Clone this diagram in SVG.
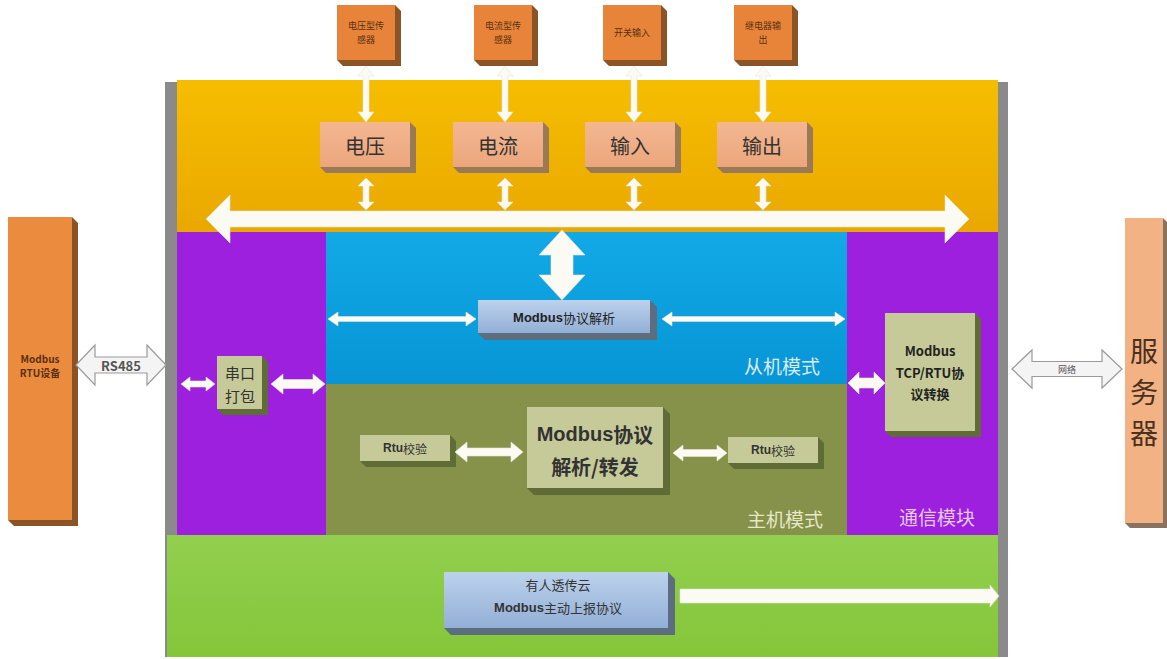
<svg xmlns="http://www.w3.org/2000/svg" xmlns:xlink="http://www.w3.org/1999/xlink" width="1167" height="659" viewBox="0 0 1167 659">
<defs>
<style>
text{font-family:"Noto Sans CJK SC","Liberation Sans",sans-serif;text-anchor:middle;dominant-baseline:central}
.arw{fill:#fbfbf4;stroke:#e6e6dc;stroke-width:0.6}
.oarw{fill:#f4f4f4;stroke:#9a9a9a;stroke-width:1.2}
.sens{fill:#e8843a}
.sensx{fill:#8a5426}
.peach{fill:url(#gPeach)}
.peachx{fill:#9a7a56}
.olv{fill:#c6ca98}
.olvx{fill:#606c36}
.blu{fill:url(#gBlue)}
.blux{fill:#5d6d80}
.t-s{font-size:9px;fill:#5a3010}
.t-m{font-size:20px;fill:#333}
.t-b{font-size:13px;fill:#222;font-weight:bold}
.t-mode{font-size:19px}
.t-srv{font-size:28px;fill:#4a3020}
</style>
<linearGradient id="gOrange" x1="0" y1="0" x2="0" y2="1"><stop offset="0" stop-color="#f6bd00"/><stop offset="1" stop-color="#eaa800"/></linearGradient>
<linearGradient id="gBlueBg" x1="0" y1="0" x2="0" y2="1"><stop offset="0" stop-color="#12a9e6"/><stop offset="1" stop-color="#0795d6"/></linearGradient>
<linearGradient id="gGreen" x1="0" y1="0" x2="0" y2="1"><stop offset="0" stop-color="#92cf4e"/><stop offset="1" stop-color="#84c63a"/></linearGradient>
<linearGradient id="gPeach" x1="0" y1="0" x2="0" y2="1"><stop offset="0" stop-color="#f3b791"/><stop offset="1" stop-color="#eca67c"/></linearGradient>
<linearGradient id="gBlue" x1="0" y1="0" x2="0" y2="1"><stop offset="0" stop-color="#bcd2ec"/><stop offset="1" stop-color="#92afd6"/></linearGradient>
<polygon id="vA" points="0,66 8,76 3,76 3,112 8,112 0,122 -8,112 -3,112 -3,76 -8,76"/>
<polygon id="vB" points="0,178 8,186 3,186 3,202 8,202 0,210 -8,202 -3,202 -3,186 -8,186"/>
</defs>

<g id="frame">
<rect x="165" y="82" width="843" height="575" fill="#8a8a8a"/>
<rect x="177" y="80" width="821" height="152" fill="url(#gOrange)"/>
<rect x="177" y="232" width="149" height="303" fill="#9c20de"/>
<rect x="326" y="232" width="521" height="152" fill="url(#gBlueBg)"/>
<rect x="326" y="384" width="521" height="151" fill="#86924a"/>
<rect x="847" y="232" width="151" height="303" fill="#9c20de"/>
<rect x="167" y="535" width="831" height="122" fill="url(#gGreen)"/>
<text x="782" y="365" class="t-mode" fill="#dceaf4">从机模式</text>
<text x="785" y="518" class="t-mode" fill="#e6e8c8">主机模式</text>
<text x="937" y="516" class="t-mode" fill="#e6c8f4">通信模块</text>
</g>

<g id="sensor-voltage">
<polygon class="sensx" points="395,5 401,11 401,66 343,66 337,60 395,60"/>
<rect class="sens" x="337" y="5" width="58" height="55"/>
<text class="t-s" x="366" y="25">电压型传</text><text class="t-s" x="366" y="39">感器</text>
</g>
<g id="sensor-current">
<polygon class="sensx" points="532,5 538,11 538,66 480,66 474,60 532,60"/>
<rect class="sens" x="474" y="5" width="58" height="55"/>
<text class="t-s" x="503" y="25">电流型传</text><text class="t-s" x="503" y="39">感器</text>
</g>
<g id="sensor-switch">
<polygon class="sensx" points="661,5 667,11 667,66 609,66 603,60 661,60"/>
<rect class="sens" x="603" y="5" width="58" height="55"/>
<text class="t-s" x="632" y="32">开关输入</text>
</g>
<g id="sensor-relay">
<polygon class="sensx" points="792,5 798,11 798,66 740,66 734,60 792,60"/>
<rect class="sens" x="734" y="5" width="58" height="55"/>
<text class="t-s" x="763" y="25">继电器输</text><text class="t-s" x="763" y="39">出</text>
</g>

<g id="box-voltage">
<polygon class="peachx" points="410,122 416,128 416,173 326,173 320,167 410,167"/>
<rect class="peach" x="320" y="122" width="90" height="45"/>
<text class="t-m" x="365" y="145">电压</text>
</g>
<g id="box-current">
<polygon class="peachx" points="543,122 549,128 549,173 459,173 453,167 543,167"/>
<rect class="peach" x="453" y="122" width="90" height="45"/>
<text class="t-m" x="498" y="145">电流</text>
</g>
<g id="box-input">
<polygon class="peachx" points="675,122 681,128 681,173 591,173 585,167 675,167"/>
<rect class="peach" x="585" y="122" width="90" height="45"/>
<text class="t-m" x="630" y="145">输入</text>
</g>
<g id="box-output">
<polygon class="peachx" points="807,122 813,128 813,173 723,173 717,167 807,167"/>
<rect class="peach" x="717" y="122" width="90" height="45"/>
<text class="t-m" x="762" y="145">输出</text>
</g>

<g id="box-parse">
<polygon class="blux" points="650,300 657,307 657,340 485,340 478,333 650,333"/>
<rect class="blu" x="478" y="300" width="172" height="33"/>
<text x="564" y="317" font-size="13px" fill="#222"><tspan font-weight="bold" font-family="Liberation Sans,sans-serif">Modbus</tspan>协议解析</text>
</g>

<g id="box-serial">
<polygon class="olvx" points="262,356 268,362 268,415 223,415 217,409 262,409"/>
<rect class="olv" x="217" y="356" width="45" height="53"/>
<text x="240" y="372" font-size="15px" fill="#333">串口</text>
<text x="240" y="395" font-size="15px" fill="#333">打包</text>
</g>

<g id="box-rtu-left">
<polygon class="olvx" points="450,435 456,441 456,467 366,467 360,461 450,461"/>
<rect class="olv" x="360" y="435" width="90" height="26"/>
<text x="405" y="448" font-size="12px" fill="#333"><tspan font-weight="bold" font-family="Liberation Sans,sans-serif">Rtu</tspan>校验</text>
</g>

<g id="box-forward">
<polygon class="olvx" points="663,407 670,414 670,495 534,495 527,488 663,488"/>
<rect class="olv" x="527" y="407" width="136" height="81"/>
<text x="595" y="434" font-size="20px" fill="#333" font-weight="bold"><tspan font-family="Liberation Sans,sans-serif">Modbus</tspan>协议</text>
<text x="595" y="466" font-size="20px" fill="#333" font-weight="bold">解析/转发</text>
</g>

<g id="box-rtu-right">
<polygon class="olvx" points="818,437 824,443 824,469 734,469 728,463 818,463"/>
<rect class="olv" x="728" y="437" width="90" height="26"/>
<text x="773" y="450" font-size="12px" fill="#333"><tspan font-weight="bold" font-family="Liberation Sans,sans-serif">Rtu</tspan>校验</text>
</g>

<g id="box-tcp">
<polygon class="olvx" points="975,313 981,319 981,437 891,437 885,431 975,431"/>
<rect class="olv" x="885" y="313" width="90" height="118"/>
<text x="930" y="350" class="t-b">Modbus</text>
<text x="930" y="372" class="t-b">TCP/RTU协</text>
<text x="930" y="393" class="t-b">议转换</text>
</g>

<g id="box-cloud">
<polygon class="blux" points="668,572 675,579 675,635 451,635 444,628 668,628"/>
<rect class="blu" x="444" y="572" width="224" height="56"/>
<text x="558" y="584" font-size="13px" fill="#333">有人透传云</text>
<text x="558" y="607" font-size="13px" fill="#333"><tspan font-weight="bold" font-family="Liberation Sans,sans-serif">Modbus</tspan>主动上报协议</text>
</g>

<g id="device-rtu">
<polygon class="sensx" points="72,217 78,223 78,526 14,526 8,520 72,520"/>
<rect x="8" y="217" width="64" height="303" fill="#eb8b3e"/>
<text x="40" y="358" font-size="10px" font-weight="bold" fill="#5a3010">Modbus</text>
<text x="40" y="372" font-size="10px" font-weight="bold" fill="#5a3010">RTU设备</text>
</g>

<g id="server">
<polygon points="1163,218 1168,223 1168,528 1130,528 1125,523 1163,523" fill="#8a7260"/>
<rect x="1125" y="218" width="38" height="305" fill="#f2b283"/>
<text x="1144" y="350" class="t-srv">服</text>
<text x="1144" y="391" class="t-srv">务</text>
<text x="1144" y="432" class="t-srv">器</text>
</g>

<g id="connectors">
<polygon class="arw" points="206,219 230,195 230,211 945,211 945,195 969,219 945,243 945,227 230,227 230,243"/>
<use href="#vA" x="366" class="arw"/>
<use href="#vA" x="505" class="arw"/>
<use href="#vA" x="634" class="arw"/>
<use href="#vA" x="763" class="arw"/>
<use href="#vB" x="366" class="arw"/>
<use href="#vB" x="505" class="arw"/>
<use href="#vB" x="634" class="arw"/>
<use href="#vB" x="763" class="arw"/>
<polygon class="arw" points="562,230 585,255 573,255 573,275 585,275 562,300 539,275 551,275 551,255 539,255"/>
<polygon class="arw" points="328,319 338,312 338,316.5 466,316.5 466,312 476,319 466,326 466,321.5 338,321.5 338,326"/>
<polygon class="arw" points="662,319 672,312 672,316.5 835,316.5 835,312 845,319 835,326 835,321.5 672,321.5 672,326"/>
<polygon class="arw" points="181,384 190,377 190,381 206,381 206,377 215,384 206,391 206,387 190,387 190,391"/>
<polygon class="arw" points="271,384 283,374 283,379.5 313,379.5 313,374 325,384 313,394 313,388.5 283,388.5 283,394"/>
<polygon class="arw" points="455,452 467,442 467,448 511,448 511,442 523,452 511,462 511,456 467,456 467,462"/>
<polygon class="arw" points="673,453 683,445 683,449.5 717,449.5 717,445 727,453 717,461 717,456.5 683,456.5 683,461"/>
<polygon class="arw" points="848,383 859,372 859,378 874,378 874,372 885,383 874,394 874,388 859,388 859,394"/>
<polygon class="arw" points="680,589 990,589 990,585 999,596 990,607 990,603 680,603"/>
<polygon class="oarw" points="76,365 95,345 95,357 147,357 147,345 166,365 147,385 147,373 95,373 95,385"/>
<text x="121" y="365" font-size="13px" font-weight="bold" font-family="Liberation Sans,sans-serif" fill="#555">RS485</text>
<polygon class="oarw" points="1012,369 1032,350 1032,361.5 1102,361.5 1102,350 1122,369 1102,388 1102,376.5 1032,376.5 1032,388"/>
<text x="1067" y="369" font-size="9px" fill="#555">网络</text>
</g>
</svg>
